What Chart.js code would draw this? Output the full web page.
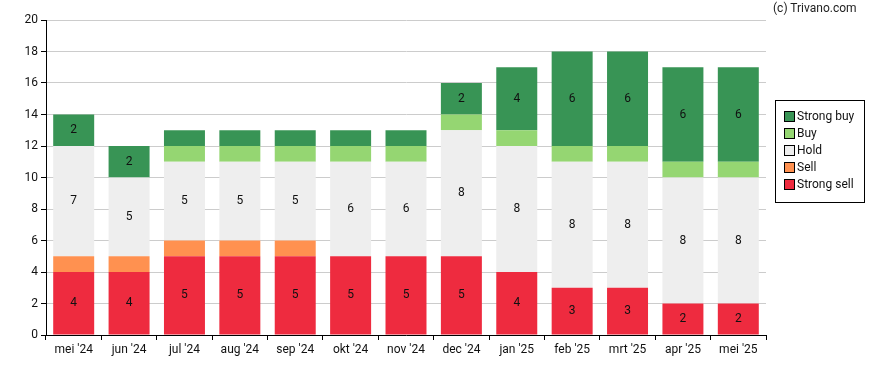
<!DOCTYPE html>
<html lang="nl">
  <head>
    <meta charset="UTF-8" />
    <title>Analistenadviezen</title>
    <script src="https://cdn.jsdelivr.net/npm/chart.js"></script>
    <style>
      body { margin: 0; background: #fff; }
      #wrap { position: relative; width: 888px; height: 370px; }
      #credit {
        position: absolute; left: 773px; top: 1px;
        font: 12px Roboto, "Liberation Sans", sans-serif; color: #222;
      }
    </style>
  </head>
  <body>
    <div id="wrap">
      <canvas id="advice"></canvas>
      <div id="credit">(c) Trivano.com</div>
    </div>
    <script>
      // Months and advice counts
      const months = ["mei '24", "jun '24", "jul '24", "aug '24", "sep '24", "okt '24", "nov '24",
                      "dec '24", "jan '25", "feb '25", "mrt '25", "apr '25", "mei '25"];
      const strongSell = [4, 4, 5, 5, 5, 5, 5, 5, 4, 3, 3, 2, 2];
      const sell       = [1, 1, 1, 1, 1, 0, 0, 0, 0, 0, 0, 0, 0];
      const hold       = [7, 5, 5, 5, 5, 6, 6, 8, 8, 8, 8, 8, 8];
      const buy        = [0, 0, 1, 1, 1, 1, 1, 1, 1, 1, 1, 1, 1];
      const strongBuy  = [2, 2, 1, 1, 1, 1, 1, 2, 4, 6, 6, 6, 6];
      const yTicks = [0, 2, 4, 6, 8, 10, 12, 14, 16, 18, 20];

      const font = "Roboto, 'Liberation Sans', sans-serif";

      // Numbers in the middle of every segment of 2 or more
      const segmentLabels = {
        id: "segmentLabels",
        afterDatasetsDraw(chart) {
          const ctx = chart.ctx;
          ctx.save();
          ctx.font = "12px " + font;
          ctx.fillStyle = "#111";
          ctx.textAlign = "center";
          ctx.textBaseline = "middle";
          chart.data.datasets.forEach((ds, i) => {
            chart.getDatasetMeta(i).data.forEach((bar, j) => {
              const v = ds.data[j];
              if (v < 2) return;
              ctx.fillText(String(v), bar.x, (bar.y + bar.base) / 2);
            });
          });
          ctx.restore();
        },
      };

      // Boxed legend on the right, top entry = last dataset
      const boxLegend = {
        id: "boxLegend",
        afterDraw(chart) {
          const ctx = chart.ctx;
          const x = 775.5, y = 100.5, w = 89, h = 102;
          ctx.save();
          ctx.strokeStyle = "#000";
          ctx.lineWidth = 1;
          ctx.strokeRect(x, y, w, h);
          ctx.font = "12px " + font;
          ctx.textBaseline = "middle";
          const sets = chart.data.datasets.slice().reverse();
          sets.forEach((ds, k) => {
            const cy = 117 + k * 17;
            ctx.fillStyle = ds.backgroundColor;
            ctx.fillRect(784.5, cy - 5.5, 10, 10);
            ctx.strokeStyle = "#000";
            ctx.strokeRect(784.5, cy - 5.5, 10, 10);
            ctx.fillStyle = "#111";
            ctx.fillText(ds.label, 797, cy);
          });
          ctx.restore();
        },
      };

      new Chart(document.getElementById("advice"), {
        type: "bar",
        data: {
          labels: months,
          datasets: [
            { label: "Strong sell", data: strongSell, backgroundColor: "#ee2b3f" },
            { label: "Sell", data: sell, backgroundColor: "#ff9150" },
            { label: "Hold", data: hold, backgroundColor: "#eeeeee" },
            { label: "Buy", data: buy, backgroundColor: "#95d672" },
            { label: "Strong buy", data: strongBuy, backgroundColor: "#389455" },
          ],
        },
        options: {
          responsive: true,
          maintainAspectRatio: false,
          animation: false,
          layout: { padding: { left: 0, right: 122, top: 20, bottom: 0 } },
          datasets: { bar: { barPercentage: 0.74, categoryPercentage: 1 } },
          plugins: { legend: { display: false }, tooltip: { enabled: false } },
          scales: {
            x: {
              stacked: true,
              grid: { drawOnChartArea: false, drawTicks: true, tickLength: 5, tickColor: "#000" },
              border: { color: "#000" },
              ticks: { color: "#111", font: { family: font, size: 12 }, padding: 3, maxRotation: 0, autoSkip: false },
              afterFit: (s) => { s.height = 35; },
            },
            y: {
              stacked: true,
              min: 0,
              max: 20,
              afterBuildTicks: (s) => { s.ticks = yTicks.map((v) => ({ value: v })); },
              grid: { color: "#cccccc", tickLength: 5, tickColor: "#000" },
              border: { color: "#000" },
              ticks: { color: "#111", font: { family: font, size: 12 }, padding: 3 },
              afterFit: (s) => { s.width = 46; },
            },
          },
        },
        plugins: [segmentLabels, boxLegend],
      });
    </script>
  </body>
</html>
